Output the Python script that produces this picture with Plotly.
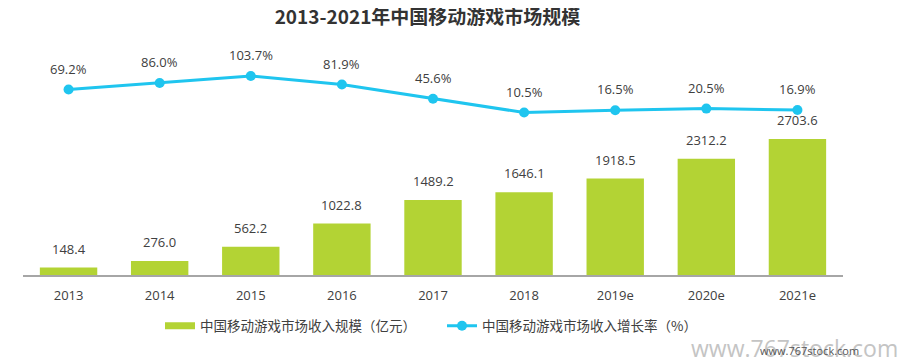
import plotly.graph_objects as go

categories = ["2013", "2014", "2015", "2016", "2017", "2018", "2019e", "2020e", "2021e"]
revenue = [148.4, 276.0, 562.2, 1022.8, 1489.2, 1646.1, 1918.5, 2312.2, 2703.6]
growth = [69.2, 86.0, 103.7, 81.9, 45.6, 10.5, 16.5, 20.5, 16.9]

title_text = "2013-2021年中国移动游戏市场规模"
bar_name = "中国移动游戏市场收入规模（亿元）"
line_name = "中国移动游戏市场收入增长率（%）"
watermark = "www.767stock.com"

GREEN = "#b3d334"
CYAN = "#1fc5ef"
TEXT = "#404040"
FONT = "Open Sans, Noto Sans CJK SC, sans-serif"
CJK = "Noto Sans CJK SC, sans-serif"

# page body has an 8px default margin, so the figure is 8px smaller than the window
W, H = 898, 354
L, T, R, B = 15, 32, 63, 87
PW, PH = W - L - R, H - T - B


def px(xf):
    return (xf - L) / PW


def py(yf):
    return (H - B - yf) / PH


fig = go.Figure()
fig.add_trace(go.Bar(
    x=categories, y=revenue, name=bar_name, showlegend=False,
    marker=dict(color=GREEN, line=dict(width=0)),
    width=0.63, yaxis="y",
))
# legend swatch for the bars (wide flat rectangle as in the reference)
fig.add_trace(go.Scatter(
    x=[None], y=[None], name=bar_name, mode="lines",
    line=dict(color=GREEN, width=7), yaxis="y", hoverinfo="skip",
    legend="legend",
))
fig.add_trace(go.Scatter(
    x=categories, y=growth, name=line_name, mode="lines+markers",
    line=dict(color=CYAN, width=3), marker=dict(color=CYAN, size=10),
    yaxis="y2", legend="legend2",
))

annotations = []
for i, v in enumerate(revenue):
    annotations.append(dict(x=i, y=v, xref="x", yref="y", text=f"{v:.1f}",
                            showarrow=False, yanchor="bottom", yshift=8,
                            font=dict(size=13, color=TEXT, family=FONT)))
for i, v in enumerate(growth):
    annotations.append(dict(x=i, y=v, xref="x", yref="y2", text=f"{v:.1f}%",
                            showarrow=False, yanchor="bottom", yshift=10,
                            font=dict(size=13, color=TEXT, family=FONT)))
annotations.append(dict(x=px(681), y=py(340), xref="paper", yref="paper",
                        text=watermark, showarrow=False,
                        xanchor="left", yanchor="middle",
                        font=dict(size=23, color="#c4c4c4", family=FONT)))
annotations.append(dict(x=px(750), y=py(342), xref="paper", yref="paper",
                        text=watermark, showarrow=False,
                        xanchor="left", yanchor="middle",
                        font=dict(size=11, color="#555555", family=FONT)))

legend_common = dict(orientation="h", yanchor="middle", y=py(318),
                     font=dict(size=13.5, color=TEXT, family=CJK),
                     itemwidth=30, bgcolor="rgba(0,0,0,0)", xanchor="left")

fig.update_layout(
    width=W, height=H,
    margin=dict(l=L, r=R, t=T, b=B, pad=0),
    paper_bgcolor="white", plot_bgcolor="white",
    font=dict(family=FONT, color=TEXT, size=13),
    title=dict(text=f"<b>{title_text}</b>", x=419.5 / W, xanchor="center",
               y=1 - 9 / H, yanchor="middle",
               font=dict(size=19, color="#333333", family=CJK)),
    xaxis=dict(type="category", range=[-0.5, 8.5], showgrid=False,
               showline=True, linecolor="#a6a6a6", linewidth=1.5,
               ticks="outside", ticklen=8, tickcolor="rgba(0,0,0,0)",
               tickfont=dict(size=13, color=TEXT, family=FONT)),
    yaxis=dict(range=[0, 4672], visible=False, showgrid=False, zeroline=False),
    yaxis2=dict(range=[-403.8, 195.5], overlaying="y", visible=False,
                showgrid=False, zeroline=False),
    legend=dict(x=px(152), **legend_common),
    legend2=dict(x=px(434), **legend_common),
    annotations=annotations,
    showlegend=True,
    hovermode=False,
)

fig.write_html("out.html")
